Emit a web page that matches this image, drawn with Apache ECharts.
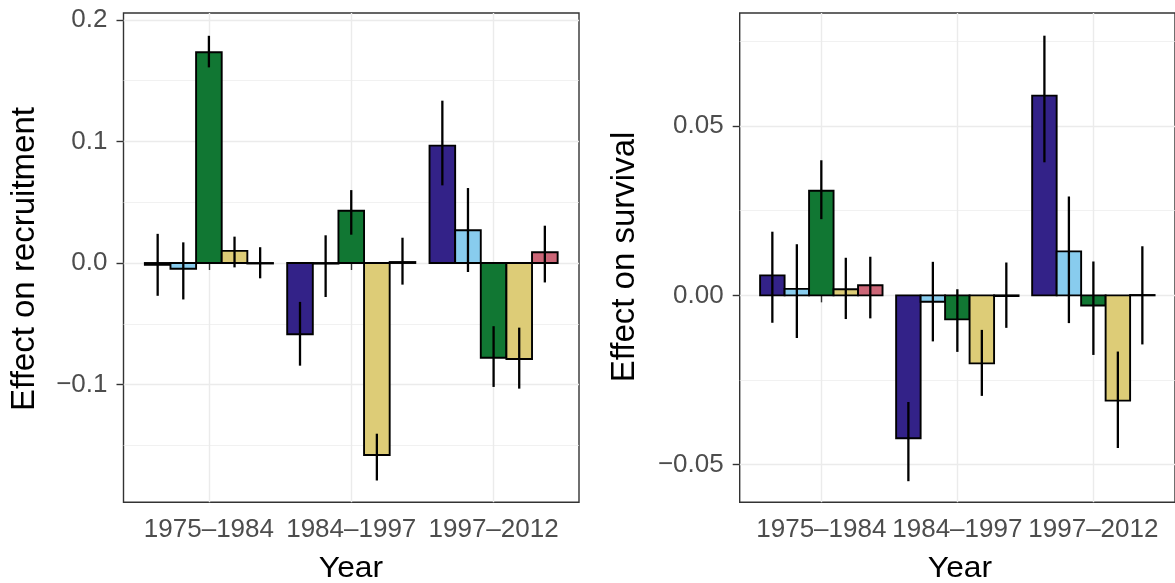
<!DOCTYPE html>
<html>
<head>
<meta charset="utf-8">
<script src="https://cdn.jsdelivr.net/npm/echarts@6/dist/echarts.min.js"></script>
<style>
  html, body { margin: 0; padding: 0; background: #fff; overflow: hidden; }
  #chart { width: 1175px; height: 583px; }
</style>
</head>
<body>
<div id="chart"></div>
<script>
// Periods on the x axis and the fill of each of the five groups
const periods = ['1975–1984', '1984–1997', '1997–2012'];
const fillColors = ['#332288', '#88CCEE', '#117733', '#DDCC77', '#CC6677'];

// Effect on recruitment: one row per group, one column per period
const recMean = [
  [-0.0015, -0.0587, 0.0966],
  [-0.0047, -0.0005, 0.0270],
  [0.1734, 0.0430, -0.0780],
  [0.0100, -0.1580, -0.0790],
  [-0.0004, 0.0008, 0.0088]
];
const recLow = [
  [-0.0270, -0.0845, 0.0639],
  [-0.0300, -0.0280, -0.0074],
  [0.1610, 0.0233, -0.1020],
  [-0.0036, -0.1790, -0.1034],
  [-0.0126, -0.0178, -0.0160]
];
const recHigh = [
  [0.0240, -0.0320, 0.1336],
  [0.0170, 0.0228, 0.0617],
  [0.1870, 0.0600, -0.0520],
  [0.0217, -0.1405, -0.0532],
  [0.0130, 0.0208, 0.0307]
];

// Effect on survival: one row per group, one column per period
const survMean = [
  [0.0059, -0.0422, 0.0590],
  [0.0019, -0.0019, 0.0130],
  [0.0309, -0.0071, -0.0030],
  [0.0018, -0.0201, -0.0311],
  [0.0030, -0.0002, 0.0001]
];
const survLow = [
  [-0.0081, -0.0549, 0.0393],
  [-0.0126, -0.0136, -0.0082],
  [0.0225, -0.0167, -0.0176],
  [-0.0070, -0.0297, -0.0451],
  [-0.0068, -0.0096, -0.0145]
];
const survHigh = [
  [0.0188, -0.0315, 0.0767],
  [0.0151, 0.0099, 0.0292],
  [0.0399, 0.0018, 0.0100],
  [0.0111, -0.0102, -0.0166],
  [0.0114, 0.0097, 0.0145]
];

// Tick values
const recTicks = [-0.1, 0, 0.1, 0.2];
const recMinor = [-0.15, -0.05, 0.05, 0.15];
const survTicks = [-0.05, 0, 0.05];
const survMinor = [-0.025, 0.025, 0.075];
const periodTicks = [1, 2, 3];

const FONT = '"Liberation Sans", Arial, Helvetica, sans-serif';
const DODGE = 0.9 / fillColors.length;   // width of one bar in category units

function barData(mean) {
  const out = [];
  mean.forEach((row, k) => row.forEach((v, i) => out.push([i + 1, v, k])));
  return out;
}
function errData(low, high) {
  const out = [];
  low.forEach((row, k) => row.forEach((v, i) => out.push([i + 1, v, high[k][i], k])));
  return out;
}

function renderBar(params, api) {
  const x = api.value(0), v = api.value(1), k = api.value(2);
  const xc = x + (k - 2) * DODGE;
  const a = api.coord([xc - DODGE / 2, 0]);
  const b = api.coord([xc + DODGE / 2, v]);
  return {
    type: 'rect',
    shape: { x: a[0], y: Math.min(a[1], b[1]), width: b[0] - a[0], height: Math.abs(b[1] - a[1]) },
    style: { fill: fillColors[k], stroke: '#000', lineWidth: 1.9 }
  };
}
function renderErr(params, api) {
  const x = api.value(0), k = api.value(3);
  const xc = x + (k - 2) * DODGE;
  const lo = api.coord([xc, api.value(1)]);
  const hi = api.coord([xc, api.value(2)]);
  return {
    type: 'line',
    shape: { x1: lo[0], y1: lo[1], x2: hi[0], y2: hi[1] },
    style: { stroke: '#000', lineWidth: 2.3 }
  };
}

const fmtNum = d => v => v.toFixed(d).replace('-', '\u2212');

function xAxisFor(gi) {
  return {
    gridIndex: gi, type: 'value', min: 0.4, max: 3.6,
    axisLine: { show: false },
    axisTick: { show: true, customValues: periodTicks, length: 7, lineStyle: { color: '#333333', width: 1.4 } },
    axisLabel: { customValues: periodTicks, formatter: v => periods[Math.round(v) - 1],
                 fontSize: 26, color: '#4D4D4D', margin: 15, fontFamily: FONT },
    splitLine: { show: true, lineStyle: { color: '#EBEBEB', width: 1.4 } }
  };
}
function yAxisFor(gi, min, max, ticks, digits) {
  return {
    gridIndex: gi, type: 'value', min: min, max: max,
    axisLine: { show: false },
    axisTick: { show: true, customValues: ticks, length: 7, lineStyle: { color: '#333333', width: 1.4 } },
    axisLabel: { customValues: ticks, formatter: fmtNum(digits),
                 fontSize: 26, color: '#4D4D4D', margin: 16, fontFamily: FONT },
    splitLine: { show: true, lineStyle: { color: '#EBEBEB', width: 1.4 } }
  };
}
function minorAxisFor(gi, min, max, ticks) {
  return {
    gridIndex: gi, type: 'value', min: min, max: max,
    axisLine: { show: false },
    axisTick: { show: false, customValues: ticks },
    axisLabel: { show: false },
    splitLine: { show: true, lineStyle: { color: '#EBEBEB', width: 0.7 } }
  };
}

const REC_MIN = -0.19695, REC_MAX = 0.20576;
const SURV_MIN = -0.06113, SURV_MAX = 0.0834;

const gridStyle = { show: true, borderColor: '#333333', borderWidth: 1.4, backgroundColor: 'transparent' };

function title(text, x, y, rotated, size, sx) {
  return {
    type: 'text', x: x, y: y, rotation: rotated ? Math.PI / 2 : 0, scaleX: sx, silent: true,
    style: { text: text, fontSize: size, fill: '#000', fontFamily: FONT,
             textAlign: 'center', textVerticalAlign: 'middle' }
  };
}

const option = {
  animation: false,
  backgroundColor: '#ffffff',
  grid: [
    Object.assign({ left: 123.5, top: 13, width: 455.5, height: 489.3 }, gridStyle),
    Object.assign({ left: 739.7, top: 13, width: 440, height: 489.3 }, gridStyle)
  ],
  xAxis: [xAxisFor(0), xAxisFor(1)],
  yAxis: [
    yAxisFor(0, REC_MIN, REC_MAX, recTicks, 1),
    minorAxisFor(0, REC_MIN, REC_MAX, recMinor),
    yAxisFor(1, SURV_MIN, SURV_MAX, survTicks, 2),
    minorAxisFor(1, SURV_MIN, SURV_MAX, survMinor)
  ],
  series: [
    { type: 'custom', xAxisIndex: 0, yAxisIndex: 0, silent: true, renderItem: renderBar,
      encode: { x: 0, y: 1 }, data: barData(recMean) },
    { type: 'custom', xAxisIndex: 0, yAxisIndex: 0, silent: true, renderItem: renderErr,
      encode: { x: 0, y: [1, 2] }, data: errData(recLow, recHigh) },
    { type: 'custom', xAxisIndex: 1, yAxisIndex: 2, silent: true, renderItem: renderBar,
      encode: { x: 0, y: 1 }, data: barData(survMean) },
    { type: 'custom', xAxisIndex: 1, yAxisIndex: 2, silent: true, renderItem: renderErr,
      encode: { x: 0, y: [1, 2] }, data: errData(survLow, survHigh) }
  ],
  graphic: [
    title('Effect on recruitment', 25, 259, true, 33, 1),
    title('Effect on survival', 625, 257, true, 33, 1),
    title('Year', 351, 569, false, 30, 1.06),
    title('Year', 960, 569, false, 30, 1.06)
  ]
};

const chart = echarts.init(document.getElementById('chart'), null, { renderer: 'canvas' });
chart.setOption(option);
</script>
</body>
</html>
